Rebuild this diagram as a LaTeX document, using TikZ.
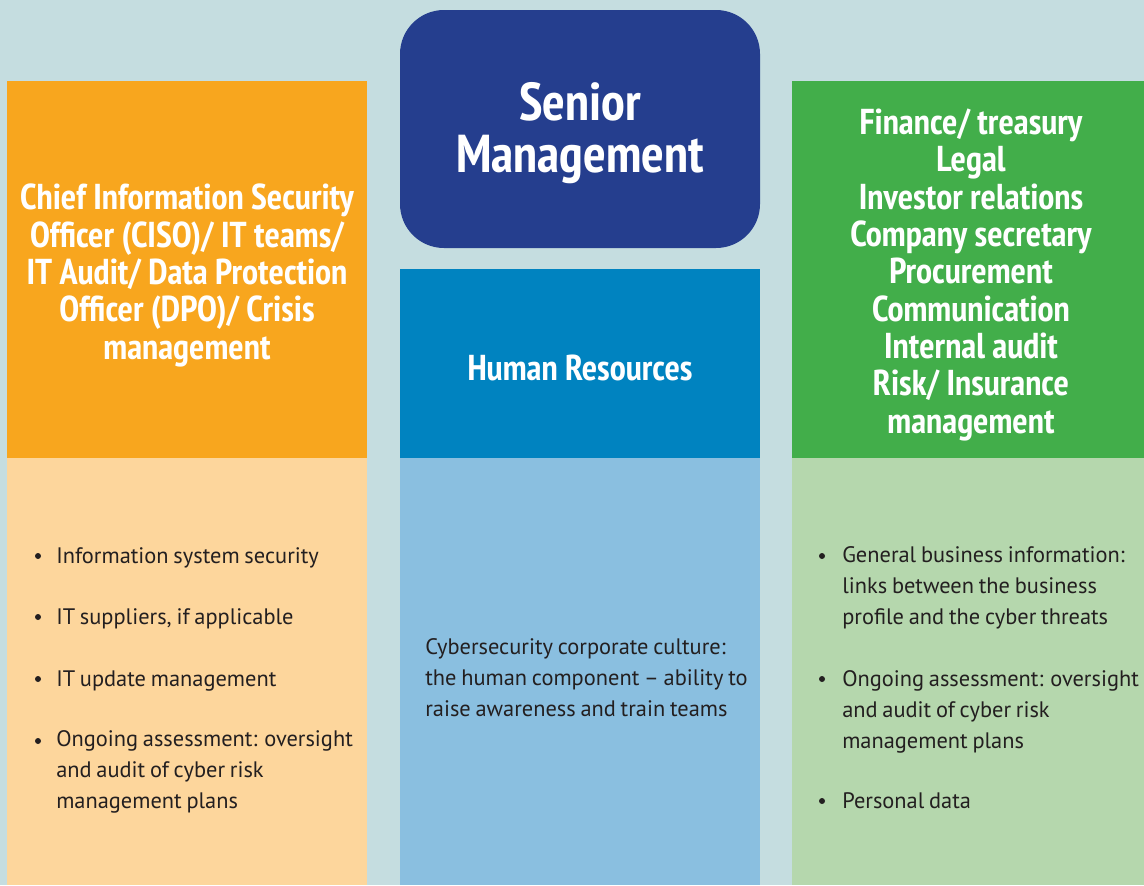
\documentclass[tikz,border=0pt]{standalone}
\usepackage{fontspec}
\setmainfont{PT Sans Narrow}
\newfontfamily\bodyfont[WordSpace=0.8]{PT Sans}
\usepackage{tikz}
\usetikzlibrary{positioning}
\definecolor{bgblue}{HTML}{C5DDE0}
\definecolor{cisoorange}{HTML}{F8A61E}
\definecolor{cisolight}{HTML}{FDD69C}
\definecolor{seniorblue}{HTML}{253E8E}
\definecolor{hrblue}{HTML}{0083C0}
\definecolor{hrlight}{HTML}{8ABFE0}
\definecolor{rolesgreen}{HTML}{42AE4A}
\definecolor{roleslight}{HTML}{B5D7AD}
\definecolor{inkgrey}{HTML}{231F20}
\tikzset{
	headtext/.style={text=white, font=\bfseries\fontsize{27}{28}\selectfont, align=center, inner sep=0pt, anchor=base},
	bodytext/.style={text=inkgrey, font=\bodyfont\fontsize{16.8}{23}\selectfont, align=left, anchor=base west, inner sep=0pt},
	dot/.style={circle, fill=inkgrey, inner sep=0pt, minimum size=4.5pt},
}

\begin{document}
\begin{tikzpicture}[x=0.75pt, y=-0.75pt]
			%%%%% START %%%%%
			
			\fill[bgblue] (0, 0) rectangle (1144, 885);
			\useasboundingbox (0, 0) rectangle (1144, 885);
			
			\fill[cisoorange] (7, 81) rectangle (367, 458);
			\fill[cisolight] (7, 458) rectangle (367, 885);
			
			\fill[seniorblue, rounded corners=33pt] (400, 10) rectangle (760, 248);
			\fill[hrblue] (400, 269) rectangle (760, 458);
			\fill[hrlight] (400, 458) rectangle (760, 885);
			
			\fill[rolesgreen] (792, 81) rectangle (1144, 458);
			\fill[roleslight] (792, 458) rectangle (1144, 885);
			
			% base anchor sits on the last line
			\node[headtext] (ciso) at (187, 359) {Chief Information Security\\Officer (CISO)/ IT teams/\\IT Audit/ Data Protection\\Officer (DPO)/ Crisis\\management};
			\node[headtext, font=\bfseries\fontsize{40}{39}\selectfont] (senior) at (580, 172) {Senior\\Management};
			\node[headtext] (hr) at (580, 380) {Human Resources};
			\node[headtext] (roles) at (971, 433) {Finance/ treasury\\Legal\\Investor relations\\Company secretary\\Procurement\\Communication\\Internal audit\\Risk/ Insurance\\management};
			
			\node[dot] (l1dot) at (38, 556) {};
			\node[bodytext] (l1) at (56, 563) {Information system security};
			\node[dot] (l2dot) at (38, 617) {};
			\node[bodytext] (l2) at (56, 624) {IT suppliers, if applicable};
			\node[dot] (l3dot) at (38, 679) {};
			\node[bodytext] (l3) at (56, 686) {IT update management};
			\node[dot] (l4dot) at (38, 741) {};
			\node[bodytext] (l4) at (56, 808) {Ongoing assessment: oversight\\and audit of cyber risk\\management plans};
			
			\node[bodytext] (culture) at (425, 716) {Cybersecurity corporate culture:\\the human component – ability to\\raise awareness and train teams};
			
			\node[dot] (r1dot) at (822, 556) {};
			\node[bodytext] (r1) at (842, 624) {General business information:\\links between the business\\profile and the cyber threats};
			\node[dot] (r2dot) at (822, 679) {};
			\node[bodytext] (r2) at (842, 748) {Ongoing assessment: oversight\\and audit of cyber risk\\management plans};
			\node[dot] (r3dot) at (822, 801) {};
			\node[bodytext] (r3) at (842, 808) {Personal data};
			
			%%%%% END %%%%%
\end{tikzpicture}
\end{document}
